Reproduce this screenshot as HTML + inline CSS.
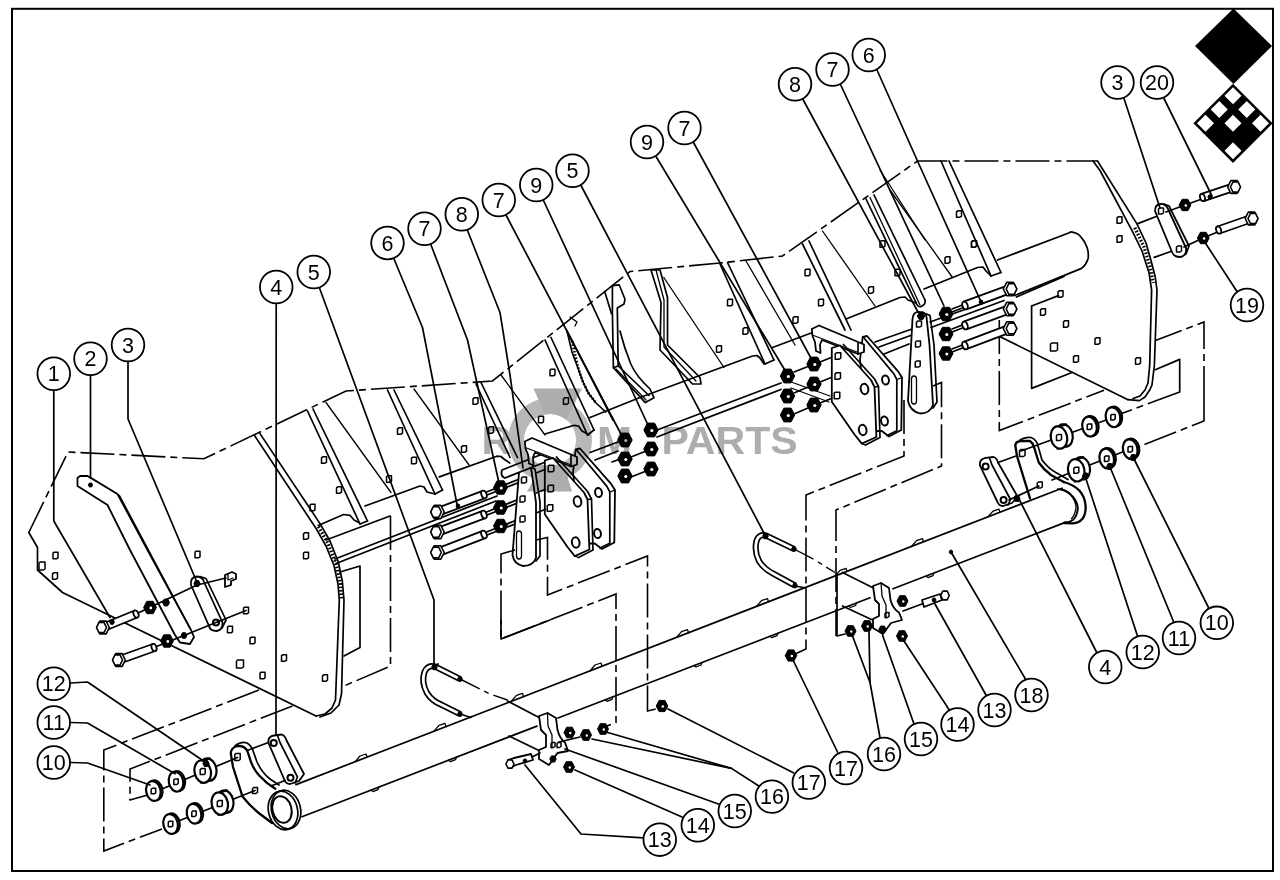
<!DOCTYPE html>
<html lang="en"><head><meta charset="utf-8"><title>Parts diagram</title>
<style>
html,body{margin:0;padding:0;background:#fff;}
body{width:1280px;height:880px;overflow:hidden;font-family:"Liberation Sans",sans-serif;}
svg{display:block}
.l{fill:none;stroke:#000;stroke-width:1.7;stroke-linecap:round;stroke-linejoin:round}
.t{fill:none;stroke:#000;stroke-width:1.3;stroke-linecap:round;stroke-linejoin:round}
.k{fill:none;stroke:#000;stroke-width:2;stroke-linecap:round;stroke-linejoin:round}
.w{fill:#fff;stroke:#000;stroke-width:1.8;stroke-linejoin:round}
.b{fill:#000;stroke:#000;stroke-width:1;stroke-linejoin:round}
.dd{fill:none;stroke:#000;stroke-width:1.6;stroke-dasharray:34 5 7 5}
.nf{fill:none}
.hl{fill:none;stroke:#000;stroke-width:1.5;stroke-linejoin:round}
.k2{stroke-width:1.6}
.k3{stroke-width:2.2}
.k3l{fill:none;stroke:#000;stroke-width:2.3;stroke-linecap:round;stroke-linejoin:round}
.ub{fill:none;stroke:#000;stroke-width:6.2;stroke-linecap:butt;stroke-linejoin:round}
.ubi{fill:none;stroke:#fff;stroke-width:2.8;stroke-linecap:butt;stroke-linejoin:round}
.dd2{fill:none;stroke:#000;stroke-width:1.4;stroke-dasharray:22 5 5 5}
.c{fill:#fff;stroke:#000;stroke-width:1.8}
.n{font-family:"Liberation Sans",sans-serif;font-size:21.5px;fill:#000;text-anchor:middle}
.wm{font-family:"Liberation Sans",sans-serif;font-weight:bold;font-size:39px;fill:#adadad}
</style></head><body>
<svg width="1280" height="880" viewBox="0 0 1280 880">
<rect x="0" y="0" width="1280" height="880" fill="#fff"/>
<!-- border -->
<rect x="12" y="8.8" width="1261" height="862.2" fill="none" stroke="#000" stroke-width="2"/>
<!-- logo -->
<g id="logo">
<path d="M1233.5,8.5 L1272,46 L1233.5,84 L1195,46 Z" fill="#000"/>
<path d="M1233,83.7 L1272.6,123.3 L1233,162.9 L1193.4,123.3 Z" fill="#000"/>
<g fill="#fff">
<path d="M1233,87.3 l8.5,8.5 l-8.5,8.5 l-8.5,-8.5 Z"/>
<path d="M1219.25,101.05 l8.5,8.5 l-8.5,8.5 l-8.5,-8.5 Z"/>
<path d="M1246.75,101.05 l8.5,8.5 l-8.5,8.5 l-8.5,-8.5 Z"/>
<path d="M1205.5,114.8 l8.5,8.5 l-8.5,8.5 l-8.5,-8.5 Z"/>
<path d="M1233,114.8 l8.5,8.5 l-8.5,8.5 l-8.5,-8.5 Z"/>
<path d="M1260.5,114.8 l8.5,8.5 l-8.5,8.5 l-8.5,-8.5 Z"/>
<path d="M1233,142.3 l8.5,8.5 l-8.5,8.5 l-8.5,-8.5 Z"/>
</g>
</g>

<g id="housing">
<polyline class="dd" points="28.8,532.5 68,452 203.8,458.8 346,391 492.5,381 630,271.5 720,263 782.5,256 917.5,161 1097.5,161"/>
<polyline class="l" points="28.8,532.5 37.5,547.5 37.5,570 62.5,592.5 316,716"/>
<polyline class="l" points="254.5,435.5 316.4,529 326,546 334,565.5 338,584 339.3,600 335.5,700 332,708 325,714 316,716"/>
<polyline class="l" points="260,433.6 320,523.6 330,541 338.2,561.8 342.3,581 344,600 341.5,694 339,705 331,713 320,717"/>
<polyline class="l" points="318.2,525.5 343.6,514.5 350,515.3 354,520 359.3,522.8"/>
<polyline class="l" points="365,506 420,486 424,487 427,492 435,494"/>
<polyline class="l" points="439.3,476.9 496.9,456.2 501,456.5 504.5,459.5 509.8,463"/>
<polyline class="l" points="545,434 574.2,425.3 578.5,426 582,431 588.8,434.8"/>
<polyline class="l" points="326,540 390,516"/>
<polyline class="l" points="340,572 360,566 360,647.5 344,656"/>
<polyline class="dd" points="390.5,516 390.5,666 344,686"/>
<polyline class="l" points="307.5,411 360,524"/>
<polyline class="l" points="313,409 367.5,521"/>
<polyline class="l" points="360,524 367.5,521"/>
<polyline class="t" points="326,402.5 391,492.5"/>
<polyline class="l" points="387.5,390 435,494"/>
<polyline class="l" points="394,390 442.5,490"/>
<polyline class="l" points="435,494 442.5,490"/>
<polyline class="t" points="414,389 469,465"/>
<polyline class="l" points="476,384 510,457.5"/>
<polyline class="l" points="481,382.5 517.5,457.5"/>
<polyline class="t" points="501,375 545,435"/>
<polyline class="l" points="545,340 587.5,435"/>
<polyline class="l" points="551,337.5 594,430"/>
<polyline class="l" points="587.5,435 594,430"/>
<polyline class="t" points="570,317 577,322 575,326"/>
<polyline class="l" points="567,331 572,352 578.6,369.7 583,382 588.3,392.9 596,403 605.7,412"/>
<polyline class="l" points="567,331 613,420"/>
<path class="l" d="M612.4,285.7 L619.2,284.8 L625,299.2 L624,304 L617.3,308 L618.2,366 L613.4,367.8 L612.4,313 Z"/>
<polyline class="l" points="604.7,291.5 611.5,313.7"/>
<path class="l" d="M613.4,367.8 L645.3,402.6 L654,397.7 L650,389 Q636,376 630.8,364 Q624,347 620,331"/>
<polyline class="l" points="618.2,366 649,395.5"/>
<polyline class="t" points="616,369 646,400"/>
<polygon class="l" points="651,270 660,270 667.5,297.5 667.5,345 700,377.5 701,384 692.5,384 660,350 661,302.5"/>
<polyline class="t" points="656,270 664,300 664,347 696,381"/>
<polyline class="t" points="663.8,277.5 724,367.5"/>
<polyline class="l" points="590,417.5 640,397.5 752.5,356 757,355.5 760,358 764,364"/>
<polyline class="l" points="772.5,347.5 812.5,332.5"/>
<polyline class="l" points="720,264 765,364"/>
<polyline class="l" points="727.5,262.5 774,360"/>
<polyline class="l" points="765,364 774,360"/>
<polyline class="t" points="746,261 795,345"/>
<polyline class="l" points="802.5,244 845,330"/>
<polyline class="l" points="809,241 851,330"/>
<polyline class="t" points="822.5,231 875,306"/>
<polyline class="l" points="866,199 916,302.5"/>
<polyline class="l" points="874,195 925,300"/>
<polyline class="t" points="870,197.5 920,305"/>
<path class="l" d="M916,302.5 q2,6 6,3.5 q4,-2 3,-6"/>
<polyline class="t" points="890,190 952.5,277.5"/>
<polyline class="l" points="941,161 991,276"/>
<polyline class="l" points="949,161 1001,272.5"/>
<polyline class="l" points="991,276 1001,272.5"/>
<polyline class="l" points="846,319 900,297.5 905,297 908,300 916,303"/>
<polyline class="l" points="924,289 977.5,267.5 983,267 986,271 991,276"/>
<polyline class="t" points="880,170 925,240"/>
<polyline class="l" points="1097.5,161 1136.8,223.6 1146,243 1151,260.5 1155.2,276.8 1157,290 1154.4,365 1152,385 1149.7,390 1145,397 1139.4,400.6 1128,399.7"/>
<polyline class="l" points="1093,161 1100,170.5 1132.7,231.8 1142,251 1149,272.7 1151.6,290 1149.7,365 1148,383 1145,390 1140,396 1133,398.5"/>
<polyline class="l" points="1000.6,337 1128,399.7"/>
<polyline class="l" points="997.5,260 1070,232.5"/>
<path class="l" d="M1070.5,231.8 Q1077,232.5 1080,235.8 Q1085,241 1087.2,247.7 Q1089,254 1088,258.9 Q1086,265 1081.6,268.4 L1014.8,295.5"/>
<polyline class="l" points="1016.4,297 1064,276.4"/>
<polyline class="dd" points="999.3,320 999.3,430.6 1104,390.3"/>
<polyline class="dd" points="1204,400 1204,322 1155.5,340.6"/>
<polyline class="l" points="1031.6,306 1031.6,388.4 1072,372.5"/>
<polyline class="l" points="1031.6,306 1058.5,295.6"/>
<polyline class="l" points="1155.3,369.7 1179.7,359.4 1179.7,392"/>
<polyline class="dd" points="1204,400 1204,421 1138,447"/>
<polyline class="dd" points="1179.7,392 1121,413.7"/>
<polyline points="318.5,526.5 328,543.5 336,563.5 340.2,582.5 341.7,600" fill="none" stroke="#000" stroke-width="3.4" stroke-dasharray="1.6 1.8"/>
<polyline points="1134.8,227.7 1144,247 1150,266.5 1153.3,283" fill="none" stroke="#000" stroke-width="3.4" stroke-dasharray="1.6 1.8"/>
<polyline points="572,341 578.6,369.7 583,382 588.3,392.9 596,403" fill="none" stroke="#000" stroke-width="2.6" stroke-dasharray="1.6 1.8"/>
<polygon class="hl nf" points="53,553.2 54.2,552.2 58,552.2 58,557.8 56.5,558.8 53,558.8"/>
<polygon class="hl nf" points="52.5,573.8 53.7,572.8 57.5,572.8 57.5,578.2 56,579.2 52.5,579.2"/>
<polygon class="hl nf" points="195,552.2 196.2,551.2 200,551.2 200,556.8 198.5,557.8 195,557.8"/>
<polygon class="hl nf" points="227.5,627.2 228.7,626.2 232.5,626.2 232.5,631.8 231,632.8 227.5,632.8"/>
<polygon class="hl nf" points="250,638.2 251.2,637.2 255,637.2 255,642.8 253.5,643.8 250,643.8"/>
<polygon class="hl nf" points="260,673.2 261.2,672.2 265,672.2 265,677.8 263.5,678.8 260,678.8"/>
<polygon class="hl nf" points="281.5,655.8 282.7,654.8 286.5,654.8 286.5,660.2 285,661.2 281.5,661.2"/>
<polygon class="hl nf" points="310,505.2 311.2,504.2 315,504.2 315,509.8 313.5,510.8 310,510.8"/>
<polygon class="hl nf" points="303.5,533.8 304.7,532.8 308.5,532.8 308.5,538.2 307,539.2 303.5,539.2"/>
<polygon class="hl nf" points="303.5,553.2 304.7,552.2 308.5,552.2 308.5,557.8 307,558.8 303.5,558.8"/>
<polygon class="hl nf" points="321.5,457.8 322.7,456.8 326.5,456.8 326.5,462.2 325,463.2 321.5,463.2"/>
<polygon class="hl nf" points="336.5,487.8 337.7,486.8 341.5,486.8 341.5,492.2 340,493.2 336.5,493.2"/>
<polygon class="hl nf" points="322.5,675.8 323.7,674.8 327.5,674.8 327.5,680.2 326,681.2 322.5,681.2"/>
<polygon class="hl nf" points="243.5,608.2 244.7,607.2 248.5,607.2 248.5,612.8 247,613.8 243.5,613.8"/>
<polygon class="hl nf" points="397.5,428.8 398.7,427.8 402.5,427.8 402.5,433.2 401,434.2 397.5,434.2"/>
<polygon class="hl nf" points="411.5,458.2 412.7,457.2 416.5,457.2 416.5,462.8 415,463.8 411.5,463.8"/>
<polygon class="hl nf" points="386.5,476.8 387.7,475.8 391.5,475.8 391.5,481.2 390,482.2 386.5,482.2"/>
<polygon class="hl nf" points="461.5,446.8 462.7,445.8 466.5,445.8 466.5,451.2 465,452.2 461.5,452.2"/>
<polygon class="hl nf" points="473,398.8 474.2,397.8 478,397.8 478,403.2 476.5,404.2 473,404.2"/>
<polygon class="hl nf" points="488.5,427.8 489.7,426.8 493.5,426.8 493.5,432.2 492,433.2 488.5,433.2"/>
<polygon class="hl nf" points="550,370.2 551.2,369.2 555,369.2 555,374.8 553.5,375.8 550,375.8"/>
<polygon class="hl nf" points="563.5,398.8 564.7,397.8 568.5,397.8 568.5,403.2 567,404.2 563.5,404.2"/>
<polygon class="hl nf" points="538.5,417.2 539.7,416.2 543.5,416.2 543.5,421.8 542,422.8 538.5,422.8"/>
<polygon class="hl nf" points="727.5,300.2 728.7,299.2 732.5,299.2 732.5,304.8 731,305.8 727.5,305.8"/>
<polygon class="hl nf" points="743,328.8 744.2,327.8 748,327.8 748,333.2 746.5,334.2 743,334.2"/>
<polygon class="hl nf" points="716.5,346.8 717.7,345.8 721.5,345.8 721.5,351.2 720,352.2 716.5,352.2"/>
<polygon class="hl nf" points="805,270.2 806.2,269.2 810,269.2 810,274.8 808.5,275.8 805,275.8"/>
<polygon class="hl nf" points="818.5,300.2 819.7,299.2 823.5,299.2 823.5,304.8 822,305.8 818.5,305.8"/>
<polygon class="hl nf" points="793,317.8 794.2,316.8 798,316.8 798,322.2 796.5,323.2 793,323.2"/>
<polygon class="hl nf" points="880,241.8 881.2,240.8 885,240.8 885,246.2 883.5,247.2 880,247.2"/>
<polygon class="hl nf" points="895,270.2 896.2,269.2 900,269.2 900,274.8 898.5,275.8 895,275.8"/>
<polygon class="hl nf" points="868.5,287.8 869.7,286.8 873.5,286.8 873.5,292.2 872,293.2 868.5,293.2"/>
<polygon class="hl nf" points="956.5,211.8 957.7,210.8 961.5,210.8 961.5,216.2 960,217.2 956.5,217.2"/>
<polygon class="hl nf" points="971.5,241.8 972.7,240.8 976.5,240.8 976.5,246.2 975,247.2 971.5,247.2"/>
<polygon class="hl nf" points="945,257.8 946.2,256.8 950,256.8 950,262.2 948.5,263.2 945,263.2"/>
<polygon class="hl nf" points="1117,217.8 1118.2,216.8 1122,216.8 1122,222.2 1120.5,223.2 1117,223.2"/>
<polygon class="hl nf" points="1117,236.8 1118.2,235.8 1122,235.8 1122,241.2 1120.5,242.2 1117,242.2"/>
<polygon class="hl nf" points="1058,291.8 1059.2,290.8 1063,290.8 1063,296.2 1061.5,297.2 1058,297.2"/>
<polygon class="hl nf" points="1040.5,309.8 1041.7,308.8 1045.5,308.8 1045.5,314.2 1044,315.2 1040.5,315.2"/>
<polygon class="hl nf" points="1063.5,321.8 1064.7,320.8 1068.5,320.8 1068.5,326.2 1067,327.2 1063.5,327.2"/>
<polygon class="hl nf" points="1073.5,356.8 1074.7,355.8 1078.5,355.8 1078.5,361.2 1077,362.2 1073.5,362.2"/>
<polygon class="hl nf" points="1095,338.8 1096.2,337.8 1100,337.8 1100,343.2 1098.5,344.2 1095,344.2"/>
<polygon class="hl nf" points="1135.5,358.8 1136.7,357.8 1140.5,357.8 1140.5,363.2 1139,364.2 1135.5,364.2"/>
<polygon class="hl nf" points="971.5,241.8 972.7,240.8 976.5,240.8 976.5,246.2 975,247.2 971.5,247.2"/>
<polygon class="hl nf" points="39,563 40.2,562 45,562 45,569 43.5,570 39,570"/>
<polygon class="hl nf" points="236.5,661 237.7,660 243.5,660 243.5,667 242,668 236.5,668"/>
<polygon class="hl nf" points="1050.5,344 1051.7,343 1057.5,343 1057.5,350 1056,351 1050.5,351"/>
</g>

<g id="tube">
<polyline class="l" points="296,784.6 1062,488.2"/>
<polyline class="l" points="302,816.7 537,726.1"/>
<polyline class="l" points="558,718 870,597.7"/>
<polyline class="l" points="893,588.8 1066,522.1"/>
<polyline class="t" points="355,761.8 360,756 366,754 367,757.2"/>
<polyline class="t" points="434,731.2 439,725.4 445,723.4 446,726.6"/>
<polyline class="t" points="511.5,701.2 516.5,695.4 522.5,693.4 523.5,696.6"/>
<polyline class="t" points="590,670.8 595,665 601,663 602,666.2"/>
<polyline class="t" points="676.5,637.4 681.5,631.6 687.5,629.6 688.5,632.8"/>
<polyline class="t" points="756.5,606.4 761.5,600.6 767.5,598.6 768.5,601.8"/>
<polyline class="t" points="835,576.1 840,570.3 846,568.3 847,571.5"/>
<polyline class="t" points="911.5,546.5 916.5,540.7 922.5,538.7 923.5,541.9"/>
<polyline class="t" points="988,516.9 993,511.1 999,509.1 1000,512.3"/>
<polyline class="t" points="371,790.1 373,791.6 378,789.6 379,787.1"/>
<polyline class="t" points="448.5,760.2 450.5,761.7 455.5,759.7 456.5,757.2"/>
<polyline class="t" points="770,636.2 772,637.7 777,635.7 778,633.2"/>
<polyline class="t" points="848.5,606 850.5,607.5 855.5,605.5 856.5,603"/>
<polyline class="t" points="926,576.1 928,577.6 933,575.6 934,573.1"/>
<polyline class="t" points="605,699.8 607,701.3 612,699.3 613,696.8"/>
<polyline class="t" points="694,665.5 696,667 701,665 702,662.5"/>
<path class="k3l" d="M230.8,753.6 Q231,748 236,746.5 Q243,744.5 247.2,750.5 L251,762 Q254,770 259.7,776 Q266,783 275.3,788.75 M230.8,753.6 L233,767 L242.5,796.5 Q250,806 259.7,813.75 L272,823"/>
<path class="l" d="M235,746 Q241,741 247,743 Q252,746 253.5,752 L257,762 Q262,773 270,779 L279,785"/>
<polygon class="hl nf" points="234.8,754.5 235.9,753.5 240.2,753.5 240.2,759.5 238.8,760.5 234.8,760.5"/>
<polygon class="hl nf" points="252.5,788.5 253.7,787.5 257.5,787.5 257.5,792.5 256,793.5 252.5,793.5"/>
<ellipse class="l" cx="283" cy="810.5" rx="14.5" ry="19.5" transform="rotate(-14 283 810.5)"/>
<ellipse class="l" cx="286" cy="809.5" rx="14.5" ry="19.5" transform="rotate(-14 286 809.5)"/>
<ellipse class="k" cx="282" cy="809.5" rx="9.5" ry="13.5" transform="rotate(-14 282 809.5)"/>
<path class="w" d="M268.5,743 Q267.5,736.5 274,735.5 L281.5,734.5 Q285,735.5 286.3,740 L304,774 L299,781 L290,784 Q286,784 284.5,780 Z"/>
<polyline class="l" points="277.5,735.5 280,742.5 297.5,777 295,783"/>
<circle class="k" cx="273.75" cy="743" r="3"/>
<circle class="k" cx="290.5" cy="777.8" r="3"/>
<polyline class="l" points="247.2,750.5 268.5,742.5"/>
<polyline class="l" points="271,786 285,780.5"/>
<polyline class="l" points="130,800 147.5,795 237.5,757.5"/>
<ellipse class="w k3" cx="155.2" cy="790.3" rx="7.2" ry="10" transform="rotate(-12 155.2 790.3)"/>
<ellipse class="w k3" cx="153.4" cy="791" rx="7.2" ry="10" transform="rotate(-12 153.4 791)"/>
<polygon class="hl nf" points="151.2,789.2 152.3,788.2 155.7,788.2 155.7,792.8 154.2,793.8 151.2,793.8"/>
<ellipse class="w k3" cx="177.8" cy="781" rx="7.2" ry="10" transform="rotate(-12 177.8 781)"/>
<ellipse class="w k3" cx="176" cy="781.7" rx="7.2" ry="10" transform="rotate(-12 176 781.7)"/>
<polygon class="hl nf" points="173.8,780 174.9,779 178.2,779 178.2,783.5 176.8,784.5 173.8,784.5"/>
<ellipse class="w k3" cx="208.2" cy="769.6" rx="8.136" ry="11.3" transform="rotate(-12 208.2 769.6)"/>
<polyline class="k" points="204.2,760.3 209.7,758.3"/>
<polyline class="k" points="201.2,782.9 206.7,780.9"/>
<ellipse class="w k3" cx="202.7" cy="771.6" rx="8.136" ry="11.3" transform="rotate(-12 202.7 771.6)"/>
<polygon class="hl nf" points="200.2,769.6 201.4,768.6 205.2,768.6 205.2,773.6 203.7,774.6 200.2,774.6"/>
<polygon class="b" points="209.1,763.5 207.6,766.5 204.4,766.5 202.9,763.5 204.4,760.5 207.6,760.5"/>
<polyline class="l" points="171,824 255,790.5"/>
<ellipse class="w k3" cx="172.4" cy="823.3" rx="7.2" ry="10" transform="rotate(-12 172.4 823.3)"/>
<ellipse class="w k3" cx="170.6" cy="824" rx="7.2" ry="10" transform="rotate(-12 170.6 824)"/>
<polygon class="hl nf" points="168.3,822.2 169.5,821.2 172.8,821.2 172.8,825.8 171.3,826.8 168.3,826.8"/>
<ellipse class="w k3" cx="195.8" cy="813.05" rx="7.2" ry="10" transform="rotate(-12 195.8 813.05)"/>
<ellipse class="w k3" cx="194" cy="813.75" rx="7.2" ry="10" transform="rotate(-12 194 813.75)"/>
<polygon class="hl nf" points="191.8,812 192.9,811 196.2,811 196.2,815.5 194.8,816.5 191.8,816.5"/>
<ellipse class="w k3" cx="225.3" cy="801.6" rx="8.136" ry="11.3" transform="rotate(-12 225.3 801.6)"/>
<polyline class="k" points="221.3,792.3 226.8,790.3"/>
<polyline class="k" points="218.3,814.9 223.8,812.9"/>
<ellipse class="w k3" cx="219.8" cy="803.6" rx="8.136" ry="11.3" transform="rotate(-12 219.8 803.6)"/>
<polygon class="hl nf" points="217.3,801.6 218.5,800.6 222.3,800.6 222.3,805.6 220.8,806.6 217.3,806.6"/>
<polyline class="dd" points="259,690 103.8,750 103.8,851 162,829"/>
<polyline class="dd" points="292.5,706 130,769 130,800"/>
<path class="k3l" d="M1015.3,445.3 Q1016,441 1021.5,441 L1030,441 Q1033,443 1034,447 L1038.75,462.5 Q1044,470 1051,475 L1063.75,482 M1015.3,445.3 L1017,456 L1030,498.4"/>
<path class="l" d="M1020,440 Q1025,436.5 1031,437.5 Q1037,440 1038,446 L1042,460 Q1048,468 1055,472 L1068,479.5"/>
<polygon class="hl nf" points="1019.5,450.5 1020.8,449.5 1025,449.5 1025,455.5 1023.5,456.5 1019.5,456.5"/>
<polygon class="hl nf" points="1037.3,483 1038.5,482 1042.3,482 1042.3,487 1040.8,488 1037.3,488"/>
<path class="k3l" d="M1063.75,482 Q1074,485 1079.4,490.6 Q1085,497 1085.6,506 Q1086,514 1082.5,518.75 Q1079,523 1073,523.4 L1064,523"/>
<path class="k" d="M1060.6,489 Q1068,491 1073,497 Q1078,503 1077.8,509 Q1077,516 1073,520 Q1070,522 1064,523"/>
<path class="t" d="M1057.5,489 Q1066,490 1070,493.75 Q1076,501 1076,507.8 Q1075,515 1071.5,518.75"/>
<path class="w" d="M980,465.6 Q979,459 985.6,457.8 L993.4,457 Q997,458 998,462.5 L1017.7,496.9 L1012,503 L1003,506 Q999,506 997.5,502 Z"/>
<polyline class="l" points="989.5,458 992,465 1010.5,499.5 1008,505"/>
<circle class="k" cx="985.6" cy="466.4" r="3"/>
<circle class="k" cx="1003.6" cy="500" r="3"/>
<polyline class="l" points="998,462.5 1015.3,456.2"/>
<polyline class="l" points="1009,500 1038.8,486"/>
<polygon class="b" points="1020,498.4 1018.5,501.4 1015.3,501.4 1013.8,498.4 1015.3,495.4 1018.5,495.4"/>
<polyline class="l" points="1021,451 1113,417.5"/>
<ellipse class="w k3" cx="1064.5" cy="435.5" rx="8.136" ry="11.3" transform="rotate(-12 1064.5 435.5)"/>
<polyline class="k" points="1060.5,426.2 1066,424.2"/>
<polyline class="k" points="1057.5,448.8 1063,446.8"/>
<ellipse class="w k3" cx="1059" cy="437.5" rx="8.136" ry="11.3" transform="rotate(-12 1059 437.5)"/>
<polygon class="hl nf" points="1056.5,435.5 1057.7,434.5 1061.5,434.5 1061.5,439.5 1060,440.5 1056.5,440.5"/>
<ellipse class="w k3" cx="1091.3" cy="425.9" rx="7.2" ry="10" transform="rotate(-12 1091.3 425.9)"/>
<ellipse class="w k3" cx="1089.5" cy="426.6" rx="7.2" ry="10" transform="rotate(-12 1089.5 426.6)"/>
<polygon class="hl nf" points="1087.2,424.9 1088.5,423.9 1091.8,423.9 1091.8,428.4 1090.2,429.4 1087.2,429.4"/>
<ellipse class="w k3" cx="1114.8" cy="416.5" rx="7.2" ry="10" transform="rotate(-12 1114.8 416.5)"/>
<ellipse class="w k3" cx="1113" cy="417.2" rx="7.2" ry="10" transform="rotate(-12 1113 417.2)"/>
<polygon class="hl nf" points="1110.8,415.4 1112,414.4 1115.2,414.4 1115.2,418.9 1113.8,419.9 1110.8,419.9"/>
<polyline class="l" points="1052,480 1130,449"/>
<ellipse class="w k3" cx="1081.75" cy="468.3" rx="8.136" ry="11.3" transform="rotate(-12 1081.75 468.3)"/>
<polyline class="k" points="1077.8,459 1083.2,457"/>
<polyline class="k" points="1074.8,481.6 1080.2,479.6"/>
<ellipse class="w k3" cx="1076.25" cy="470.3" rx="8.136" ry="11.3" transform="rotate(-12 1076.25 470.3)"/>
<polygon class="hl nf" points="1073.8,468.3 1075,467.3 1078.8,467.3 1078.8,472.3 1077.2,473.3 1073.8,473.3"/>
<ellipse class="w k3" cx="1108.5" cy="457.9" rx="7.2" ry="10" transform="rotate(-12 1108.5 457.9)"/>
<ellipse class="w k3" cx="1106.7" cy="458.6" rx="7.2" ry="10" transform="rotate(-12 1106.7 458.6)"/>
<polygon class="hl nf" points="1104.5,456.9 1105.7,455.9 1109,455.9 1109,460.4 1107.5,461.4 1104.5,461.4"/>
<ellipse class="w k3" cx="1132" cy="448.5" rx="7.2" ry="10" transform="rotate(-12 1132 448.5)"/>
<ellipse class="w k3" cx="1130.2" cy="449.2" rx="7.2" ry="10" transform="rotate(-12 1130.2 449.2)"/>
<polygon class="hl nf" points="1128,447.4 1129.2,446.4 1132.5,446.4 1132.5,450.9 1131,451.9 1128,451.9"/>
<polygon class="b" points="1088.7,476 1087.2,479 1084,479 1082.5,476 1084,473 1087.2,473"/>
<polygon class="b" points="1112.9,466.5 1111.4,469.5 1108.2,469.5 1106.7,466.5 1108.2,463.5 1111.4,463.5"/>
<polygon class="b" points="1136.4,457.5 1134.9,460.5 1131.7,460.5 1130.2,457.5 1131.7,454.5 1134.9,454.5"/>
<polygon class="b" points="952.8,552 951.9,553.8 950.1,553.8 949.2,552 950.1,550.2 951.9,550.2"/>
</g>

<g id="hardware">
<polyline class="l" points="335,559 497,496"/>
<polyline class="l" points="336,563.5 496,501"/>
<polyline class="l" points="484,493 522,478"/>
<polyline class="l" points="484,496.2 522,481.2"/>
<polygon class="w" points="438.9,515.7 485.4,498.2 482.6,490.8 436.1,508.3"/>
<ellipse class="w" cx="484" cy="494.5" rx="2.56" ry="4" transform="rotate(-20.6235 484 494.5)"/>
<polygon class="w k2" points="444.2,512 440.8,518.7 434.2,518.7 430.8,512 434.2,505.3 440.8,505.3"/>
<polygon class="w k2" points="441.3,512 438.7,517.4 433.3,517.4 430.7,512 433.3,506.6 438.7,506.6"/>
<polyline class="l" points="484,513 522,498"/>
<polyline class="l" points="484,516.2 522,501.2"/>
<polygon class="w" points="438.9,535.7 485.4,518.2 482.6,510.8 436.1,528.3"/>
<ellipse class="w" cx="484" cy="514.5" rx="2.56" ry="4" transform="rotate(-20.6235 484 514.5)"/>
<polygon class="w k2" points="444.2,532 440.8,538.7 434.2,538.7 430.8,532 434.2,525.3 440.8,525.3"/>
<polygon class="w k2" points="441.3,532 438.7,537.4 433.3,537.4 430.7,532 433.3,526.6 438.7,526.6"/>
<polyline class="l" points="484,533 522,518"/>
<polyline class="l" points="484,536.2 522,521.2"/>
<polygon class="w" points="438.9,556.2 485.4,538.2 482.6,530.8 436.1,548.8"/>
<ellipse class="w" cx="484" cy="534.5" rx="2.56" ry="4" transform="rotate(-21.1613 484 534.5)"/>
<polygon class="w k2" points="444.2,552.5 440.8,559.2 434.2,559.2 430.8,552.5 434.2,545.8 440.8,545.8"/>
<polygon class="w k2" points="441.3,552.5 438.7,557.9 433.3,557.9 430.7,552.5 433.3,547.1 438.7,547.1"/>
<polygon class="b" points="460,506 459,507.9 457,507.9 456,506 457,504.1 459,504.1"/>
<polygon class="b" points="507.5,487.5 504,494.2 497,494.2 493.5,487.5 497,480.8 504,480.8"/>
<circle cx="501.3" cy="488" r="1.52" fill="#fff"/>
<polygon class="b" points="507.5,507.5 504,514.2 497,514.2 493.5,507.5 497,500.8 504,500.8"/>
<circle cx="501.3" cy="508" r="1.52" fill="#fff"/>
<polygon class="b" points="507.5,526 504,532.7 497,532.7 493.5,526 497,519.3 504,519.3"/>
<circle cx="501.3" cy="526.5" r="1.52" fill="#fff"/>
<path class="w" d="M519,472.5 Q520,465 526,466 Q531,466.5 531.5,471 L536,502.5 L536,558 Q533,566 523,566 Q514,564 512.5,555 Z"/>
<polyline class="l" points="531.5,468 535,469 540,502 540,556 536,561"/>
<polygon class="hl nf" points="521.5,478 522.7,477 526.5,477 526.5,482 525,483 521.5,483"/>
<polygon class="hl nf" points="520,497 521.2,496 525,496 525,501 523.5,502 520,502"/>
<polygon class="hl nf" points="520,517 521.2,516 525,516 525,521 523.5,522 520,522"/>
<path class="t" d="M516.5,534 Q516.5,531 519,531 Q521.5,531 521.5,534 L521.5,556 Q521.5,559 519,559 Q516.5,559 516.5,556 Z"/>
<path class="w" d="M502,470 L549,451.5 L553,459 L505,478 Q500,476 502,470 Z"/>
<polygon class="w" points="575.7,449.5 580,448.5 611.3,484.2 615,490.1 614.3,542.5 602,549 594.8,543.5 581,543.5 573,472.5"/>
<polyline class="l" points="577,450.5 606.9,486.4 609.8,492 609.8,543.2 600,548"/>
<polyline class="t" points="609.8,492 615,490.1"/>
<ellipse class="k" cx="598.5" cy="492.5" rx="3.4" ry="4.6" transform="rotate(-10 598.5 492.5)"/>
<ellipse class="k" cx="597.5" cy="533.5" rx="3.4" ry="4.6" transform="rotate(-10 597.5 533.5)"/>
<polygon class="w" points="524.8,441.5 532,438 577,457 577,464.5 571,466.5 535,452.5 533,457 533.5,465.5 529,463.5 528,454.5 525.5,448.5"/>
<polyline class="t" points="526.6,448 570,464.5"/>
<polygon class="w" points="544.8,460.5 553,458 584,492.5 587.5,499.5 589.4,549.5 574.8,556.1 567.5,547 544.8,514.3"/>
<polyline class="l" points="556.5,457 587.6,491.5 591.5,499 593,550 578.5,557.5"/>
<polyline class="t" points="587.5,499.5 591.5,499"/>
<polyline class="t" points="574.8,556.1 578.5,557.5"/>
<ellipse class="k" cx="577.5" cy="501.5" rx="3.8" ry="5.2" transform="rotate(-10 577.5 501.5)"/>
<ellipse class="k" cx="575.7" cy="542.5" rx="3.8" ry="5.2" transform="rotate(-10 575.7 542.5)"/>
<polygon class="hl nf" points="548.2,466.2 549.5,465.2 553.8,465.2 553.8,470.8 552.2,471.8 548.2,471.8"/>
<polygon class="hl nf" points="548,486.2 549.2,485.2 553.5,485.2 553.5,490.8 552,491.8 548,491.8"/>
<polygon class="hl nf" points="547.2,505.8 548.5,504.8 552.8,504.8 552.8,510.2 551.2,511.2 547.2,511.2"/>
<polyline class="l" points="571,455.5 571,466.5"/>
<polyline class="l" points="536,473 545,469.5"/>
<polyline class="l" points="536,493 545,489.5"/>
<polyline class="l" points="536,513 545,509.5"/>
<polygon class="b" points="632.2,440 628.6,446.9 621.4,446.9 617.8,440 621.4,433.1 628.6,433.1"/>
<circle cx="625.8" cy="440.5" r="1.56" fill="#fff"/>
<polygon class="b" points="632.2,459 628.6,465.9 621.4,465.9 617.8,459 621.4,452.1 628.6,452.1"/>
<circle cx="625.8" cy="459.5" r="1.56" fill="#fff"/>
<polygon class="b" points="632.2,476 628.6,482.9 621.4,482.9 617.8,476 621.4,469.1 628.6,469.1"/>
<circle cx="625.8" cy="476.5" r="1.56" fill="#fff"/>
<polygon class="b" points="658.2,430 654.6,436.9 647.4,436.9 643.8,430 647.4,423.1 654.6,423.1"/>
<circle cx="651.8" cy="430.5" r="1.56" fill="#fff"/>
<polygon class="b" points="658.2,449 654.6,455.9 647.4,455.9 643.8,449 647.4,442.1 654.6,442.1"/>
<circle cx="651.8" cy="449.5" r="1.56" fill="#fff"/>
<polygon class="b" points="658.2,469 654.6,475.9 647.4,475.9 643.8,469 647.4,462.1 654.6,462.1"/>
<circle cx="651.8" cy="469.5" r="1.56" fill="#fff"/>
<polyline class="l" points="631,457 645,451.5"/>
<polyline class="l" points="631,477 645,471.5"/>
<polyline class="l" points="590,452.5 618,442"/>
<polyline class="l" points="595,460 618,451"/>
<polyline class="l" points="657,430 781,383"/>
<polyline class="l" points="657,437 781,389.5"/>
<polyline class="l" points="612,462 619,459.5"/>
<polygon class="b" points="794.7,376 791.1,382.9 783.9,382.9 780.3,376 783.9,369.1 791.1,369.1"/>
<circle cx="788.3" cy="376.5" r="1.56" fill="#fff"/>
<polygon class="b" points="794.7,396 791.1,402.9 783.9,402.9 780.3,396 783.9,389.1 791.1,389.1"/>
<circle cx="788.3" cy="396.5" r="1.56" fill="#fff"/>
<polygon class="b" points="794.7,415 791.1,421.9 783.9,421.9 780.3,415 783.9,408.1 791.1,408.1"/>
<circle cx="788.3" cy="415.5" r="1.56" fill="#fff"/>
<polygon class="b" points="821.2,364 817.6,370.9 810.4,370.9 806.8,364 810.4,357.1 817.6,357.1"/>
<circle cx="814.8" cy="364.5" r="1.56" fill="#fff"/>
<polygon class="b" points="821.2,384 817.6,390.9 810.4,390.9 806.8,384 810.4,377.1 817.6,377.1"/>
<circle cx="814.8" cy="384.5" r="1.56" fill="#fff"/>
<polygon class="b" points="821.2,405 817.6,411.9 810.4,411.9 806.8,405 810.4,398.1 817.6,398.1"/>
<circle cx="814.8" cy="405.5" r="1.56" fill="#fff"/>
<polyline class="l" points="820,362 835,356"/>
<polyline class="l" points="820,382 835,376"/>
<polyline class="l" points="820,403 835,397"/>
<polyline class="l" points="794,393 808,387"/>
<polyline class="l" points="794,414 808,408"/>
<polyline class="l" points="794,372 808,366.5"/>
<polygon class="w" points="862.7,337 867,336 898.3,371.7 902,377.6 901.3,430 889,436.5 881.8,431 868,431 860,360"/>
<polyline class="l" points="864,338 893.9,373.9 896.8,379.5 896.8,430.7 887,435.5"/>
<polyline class="t" points="896.8,379.5 902,377.6"/>
<ellipse class="k" cx="885.5" cy="380" rx="3.4" ry="4.6" transform="rotate(-10 885.5 380)"/>
<ellipse class="k" cx="884.5" cy="421" rx="3.4" ry="4.6" transform="rotate(-10 884.5 421)"/>
<polygon class="w" points="811.8,329 819,325.5 864,344.5 864,352 858,354 822,340 820,344.5 820.5,353 816,351 815,342 812.5,336"/>
<polyline class="t" points="813.6,335.5 857,352"/>
<polygon class="w" points="831.8,348 840,345.5 871,380 874.5,387 876.4,437 861.8,443.6 854.5,434.5 831.8,401.8"/>
<polyline class="l" points="843.5,344.5 874.6,379 878.5,386.5 880,437.5 865.5,445"/>
<polyline class="t" points="874.5,387 878.5,386.5"/>
<polyline class="t" points="861.8,443.6 865.5,445"/>
<ellipse class="k" cx="864.5" cy="389" rx="3.8" ry="5.2" transform="rotate(-10 864.5 389)"/>
<ellipse class="k" cx="862.7" cy="430" rx="3.8" ry="5.2" transform="rotate(-10 862.7 430)"/>
<polygon class="hl nf" points="835.2,353.8 836.5,352.8 840.8,352.8 840.8,358.2 839.2,359.2 835.2,359.2"/>
<polygon class="hl nf" points="835,373.8 836.2,372.8 840.5,372.8 840.5,378.2 839,379.2 835,379.2"/>
<polygon class="hl nf" points="834.2,393.2 835.5,392.2 839.8,392.2 839.8,397.8 838.2,398.8 834.2,398.8"/>
<polyline class="l" points="858,343 858,354"/>
<polyline class="t" points="792.5,382.5 830,396"/>
<polyline class="t" points="791,388 829,402"/>
<polyline class="l" points="875,342 912,329"/>
<polyline class="l" points="879,347 912,335"/>
<polyline class="l" points="884,354 909,344"/>
<polyline class="l" points="930,322 1004,295.5"/>
<polyline class="l" points="931,327.5 1004,300.5"/>
<path class="w" d="M912.5,319 Q913,311.5 919.5,312 Q926,312 926.5,317 L929.5,345 L933,405 Q930,413.5 920,413.5 Q910,411 908,401 Z"/>
<polyline class="l" points="926.5,314 930,315.5 934,345 937,402 933,408"/>
<polygon class="hl nf" points="916.5,322 917.7,321 921.5,321 921.5,326 920,327 916.5,327"/>
<polygon class="hl nf" points="915.5,342 916.7,341 920.5,341 920.5,346 919,347 915.5,347"/>
<polygon class="hl nf" points="915.2,362 916.5,361 920.2,361 920.2,366 918.8,367 915.2,367"/>
<path class="t" d="M911.5,379 Q911.5,376 914,376 Q916.5,376 916.5,379 L916.5,401 Q916.5,404 914,404 Q911.5,404 911.5,401 Z"/>
<polygon class="b" points="924.7,316 922.8,319.5 919.2,319.5 917.3,316 919.2,312.5 922.8,312.5"/>
<polygon class="b" points="953,314 949.5,320.7 942.5,320.7 939,314 942.5,307.3 949.5,307.3"/>
<circle cx="946.8" cy="314.5" r="1.52" fill="#fff"/>
<polygon class="b" points="953,334 949.5,340.7 942.5,340.7 939,334 942.5,327.3 949.5,327.3"/>
<circle cx="946.8" cy="334.5" r="1.52" fill="#fff"/>
<polygon class="b" points="953,353.5 949.5,360.2 942.5,360.2 939,353.5 942.5,346.8 949.5,346.8"/>
<circle cx="946.8" cy="354" r="1.52" fill="#fff"/>
<polyline class="l" points="952,309 965,304"/>
<polyline class="l" points="952,312 965,307"/>
<polygon class="w" points="1008.6,285.2 963.6,301.7 966.4,309.3 1011.4,292.8"/>
<ellipse class="w" cx="965" cy="305.5" rx="2.56" ry="4" transform="rotate(159.864 965 305.5)"/>
<polygon class="w k2" points="1016.7,289 1013.3,295.7 1006.7,295.7 1003.3,289 1006.7,282.3 1013.3,282.3"/>
<polygon class="w k2" points="1016.8,289 1014.2,294.4 1008.8,294.4 1006.2,289 1008.8,283.6 1014.2,283.6"/>
<polyline class="l" points="952,329 965,324"/>
<polyline class="l" points="952,332 965,327"/>
<polygon class="w" points="1008.6,305.2 963.6,321.7 966.4,329.3 1011.4,312.8"/>
<ellipse class="w" cx="965" cy="325.5" rx="2.56" ry="4" transform="rotate(159.864 965 325.5)"/>
<polygon class="w k2" points="1016.7,309 1013.3,315.7 1006.7,315.7 1003.3,309 1006.7,302.3 1013.3,302.3"/>
<polygon class="w k2" points="1016.8,309 1014.2,314.4 1008.8,314.4 1006.2,309 1008.8,303.6 1014.2,303.6"/>
<polyline class="l" points="952,349 965,344"/>
<polyline class="l" points="952,352 965,347"/>
<polygon class="w" points="1008.6,324.8 963.6,341.8 966.4,349.2 1011.4,332.2"/>
<ellipse class="w" cx="965" cy="345.5" rx="2.56" ry="4" transform="rotate(159.305 965 345.5)"/>
<polygon class="w k2" points="1016.7,328.5 1013.3,335.2 1006.7,335.2 1003.3,328.5 1006.7,321.8 1013.3,321.8"/>
<polygon class="w k2" points="1016.8,328.5 1014.2,333.9 1008.8,333.9 1006.2,328.5 1008.8,323.1 1014.2,323.1"/>
<polygon class="b" points="983,302 982,303.9 980,303.9 979,302 980,300.1 982,300.1"/>
<polyline class="dd" points="515,550 501,554 501,639 616,594 616,722.5 607,726"/>
<polyline class="dd" points="536,540 547.5,537.5 547.5,595 647.5,556 647.5,711 656,709"/>
<polyline class="l" points="501,620 501,639 550,620"/>
<polyline class="dd" points="904,400 904,456 806,495 806,649 795,654"/>
<polyline class="dd" points="933,386 941.5,382.5 941.5,466 836,510 836,636"/>
<polyline class="l" points="837,575 837,636 845,634"/>
</g>

<g id="misc">
<path class="w" d="M77.5,478 L80,476 L87.5,476 L117.5,494 L147.5,550 L191,630 L194,637 L190,644 L180,642.5 L175,635 L130,550 L107.5,505 L77.5,486 Z"/>
<polyline class="t" points="90,477 119.5,495.5 190,628"/>
<polygon class="b" points="92.6,485 91.6,487 89.4,487 88.4,485 89.4,483 91.6,483"/>
<polygon class="b" points="186.9,635.5 185.5,638.3 182.5,638.3 181.1,635.5 182.5,632.7 185.5,632.7"/>
<path class="w" d="M191,585 Q190,577 197,576.5 Q203,577 204,582 L222.5,622.5 Q223,630 216.5,631 Q210,631 209,626 Z"/>
<polyline class="l" points="200,576.5 206,578.5 226,620 222,628"/>
<polygon class="b" points="200.1,583.5 198.6,586.5 195.4,586.5 193.9,583.5 195.4,580.5 198.6,580.5"/>
<circle class="k" cx="216" cy="622.5" r="3"/>
<polygon class="w" points="225,575 232,572 236,574 236,579 231,581 231,585 225,587"/>
<polyline class="t" points="228,574 228,580 233,578"/>
<polyline class="l" points="136,614 197,585 226,578"/>
<polyline class="l" points="154,647.5 184,635.5 216,622.5 246,610.5"/>
<polygon class="w" points="104.4,631 137.4,617.5 134.6,610.5 101.6,624"/>
<ellipse class="w" cx="136" cy="614" rx="2.4" ry="3.75" transform="rotate(-22.249 136 614)"/>
<polygon class="w k2" points="109.3,627.5 106.2,633.9 99.8,633.9 96.7,627.5 99.8,621.1 106.2,621.1"/>
<polygon class="w k2" points="106.5,627.5 104,632.6 99,632.6 96.5,627.5 99,622.4 104,622.4"/>
<polygon class="w" points="120.3,663.5 155.3,651 152.7,644 117.7,656.5"/>
<ellipse class="w" cx="154" cy="647.5" rx="2.4" ry="3.75" transform="rotate(-19.6538 154 647.5)"/>
<polygon class="w k2" points="125.3,660 122.2,666.4 115.8,666.4 112.7,660 115.8,653.6 122.2,653.6"/>
<polygon class="w k2" points="122.5,660 120,665.1 115,665.1 112.5,660 115,654.9 120,654.9"/>
<polygon class="b" points="156.4,607.5 153.2,613.7 146.8,613.7 143.6,607.5 146.8,601.3 153.2,601.3"/>
<circle cx="150.8" cy="608" r="1.4" fill="#fff"/>
<polygon class="b" points="169.5,602.5 167.7,605.9 164.3,605.9 162.5,602.5 164.3,599.1 167.7,599.1"/>
<polygon class="b" points="173.4,641 170.2,647.2 163.8,647.2 160.6,641 163.8,634.8 170.2,634.8"/>
<circle cx="167.8" cy="641.5" r="1.4" fill="#fff"/>
<polygon class="b" points="114.4,622 113.2,624.3 110.8,624.3 109.6,622 110.8,619.7 113.2,619.7"/>
<polyline class="l" points="1137.8,223.6 1157.5,216"/>
<polyline class="l" points="1154.2,257.4 1175,250"/>
<path class="w" d="M1155,211 Q1155,204 1161,204 Q1166,204 1168,209 L1186,248 Q1187,256 1180,257 Q1174,257 1172,252 Z"/>
<polyline class="l" points="1164,204 1169,206 1189,246 1186,254"/>
<polygon class="hl nf" points="1158.5,209 1159.7,208 1163.5,208 1163.5,213 1162,214 1158.5,214"/>
<polygon class="hl nf" points="1176.5,247 1177.7,246 1181.5,246 1181.5,251 1180,252 1176.5,252"/>
<polyline class="l" points="1166,212 1185,205 1202,199"/>
<polyline class="l" points="1184,247 1203,238 1220,231"/>
<polygon class="w" points="1232.8,183.4 1201.3,193.9 1203.7,201.1 1235.2,190.6"/>
<ellipse class="w" cx="1202.5" cy="197.5" rx="2.4" ry="3.75" transform="rotate(161.565 1202.5 197.5)"/>
<polygon class="w k2" points="1240.3,187 1237.2,193.4 1230.8,193.4 1227.7,187 1230.8,180.6 1237.2,180.6"/>
<polygon class="w k2" points="1240.5,187 1238,192.1 1233,192.1 1230.5,187 1233,181.9 1238,181.9"/>
<polygon class="w" points="1250.3,215 1217.4,226.5 1219.8,233.5 1252.7,222"/>
<ellipse class="w" cx="1218.6" cy="230" rx="2.4" ry="3.75" transform="rotate(160.733 1218.6 230)"/>
<polygon class="w k2" points="1257.8,218.5 1254.7,224.9 1248.3,224.9 1245.2,218.5 1248.3,212.1 1254.7,212.1"/>
<polygon class="w k2" points="1258,218.5 1255.5,223.6 1250.5,223.6 1248,218.5 1250.5,213.4 1255.5,213.4"/>
<polygon class="b" points="1190.9,205 1187.9,210.7 1182.1,210.7 1179.1,205 1182.1,199.3 1187.9,199.3"/>
<circle cx="1185.8" cy="205.5" r="1.28" fill="#fff"/>
<polygon class="b" points="1209.2,238 1206.2,243.7 1200.4,243.7 1197.4,238 1200.4,232.3 1206.2,232.3"/>
<circle cx="1204.1" cy="238.5" r="1.28" fill="#fff"/>
<polygon class="b" points="1212.2,197 1211.1,199.1 1208.9,199.1 1207.8,197 1208.9,194.9 1211.1,194.9"/>
<path class="ub" d="M460,679 L436,667 Q428,664 424.5,672 Q421,682 427,693 Q432,701 441,704.5 L460,714"/>
<path class="ubi" d="M460,679 L436,667 Q428,664 424.5,672 Q421,682 427,693 Q432,701 441,704.5 L460,714"/>
<polyline class="k" points="434,667 438,664"/>
<polygon class="b" points="437.3,667 435.9,669.7 433.1,669.7 431.7,667 433.1,664.3 435.9,664.3"/>
<polygon class="b" points="462.4,679 461.2,681.3 458.8,681.3 457.6,679 458.8,676.7 461.2,676.7"/>
<polygon class="b" points="462.4,714 461.2,716.3 458.8,716.3 457.6,714 458.8,711.7 461.2,711.7"/>
<polyline class="dd2" points="460,679 490,694 507.5,700"/>
<polyline class="l" points="507.5,701 540,718"/>
<polyline class="l" points="460,714 471,717.5"/>
<polyline class="l" points="509,736 540,751"/>
<path class="ub" d="M794,549 L767,536 Q759,533 756.5,541 Q754,551 759,561 Q764,569 773,573.5 L795,585.5"/>
<path class="ubi" d="M794,549 L767,536 Q759,533 756.5,541 Q754,551 759,561 Q764,569 773,573.5 L795,585.5"/>
<polygon class="b" points="768.3,536 766.9,538.7 764.1,538.7 762.7,536 764.1,533.3 766.9,533.3"/>
<polygon class="b" points="796.4,549 795.2,551.3 792.8,551.3 791.6,549 792.8,546.7 795.2,546.7"/>
<polygon class="b" points="797.4,585.5 796.2,587.8 793.8,587.8 792.6,585.5 793.8,583.2 796.2,583.2"/>
<polyline class="dd2" points="794,549 815,560 835,572.5"/>
<polyline class="l" points="842.5,572.5 872.5,587.5"/>
<polyline class="l" points="795,586 806,588"/>
<polyline class="l" points="842.5,606 872.5,620"/>
<path class="w" d="M539,716 L547.5,713 L556,718 L557.5,730 Q560,739 565,742.5 L568,751 L557.5,753 L549,765 L539,759 L539,750 L546,747 L546,735 L541,730 Z"/>
<polyline class="t" points="547.5,713 548,726 552,735 552,748"/>
<polygon class="hl nf" points="551,743.5 552.2,742.5 555,742.5 555,746.5 553.5,747.5 551,747.5"/>
<polygon class="hl nf" points="557,743.5 558.2,742.5 561,742.5 561,746.5 559.5,747.5 557,747.5"/>
<polyline class="l" points="531,757.5 540,753"/>
<polygon class="w" points="508,760 514,758 531,754 533,760 516,765 510,768"/>
<polygon class="w k2" points="514,764 512,768.1 508,768.1 505.9,764 508,759.9 512,759.9"/>
<polygon class="b" points="527,761 526,762.9 524,762.9 523,761 524,759.1 526,759.1"/>
<polygon class="b" points="575,732.5 572.3,737.8 566.7,737.8 564,732.5 566.7,727.2 572.3,727.2"/>
<circle cx="570.3" cy="733" r="1.2" fill="#fff"/>
<polygon class="b" points="591.5,735 588.8,740.3 583.2,740.3 580.5,735 583.2,729.7 588.8,729.7"/>
<circle cx="586.8" cy="735.5" r="1.2" fill="#fff"/>
<polygon class="b" points="608.5,729 605.8,734.3 600.2,734.3 597.5,729 600.2,723.7 605.8,723.7"/>
<circle cx="603.8" cy="729.5" r="1.2" fill="#fff"/>
<polygon class="b" points="574.5,767 571.8,772.3 566.2,772.3 563.5,767 566.2,761.7 571.8,761.7"/>
<circle cx="569.8" cy="767.5" r="1.2" fill="#fff"/>
<polygon class="b" points="556.2,759 554.6,762.1 551.4,762.1 549.8,759 551.4,755.9 554.6,755.9"/>
<polygon class="b" points="667.8,706 664.9,711.6 659.1,711.6 656.2,706 659.1,700.4 664.9,700.4"/>
<circle cx="662.8" cy="706.5" r="1.26" fill="#fff"/>
<polyline class="l" points="559,742 580,737"/>
<path class="w" d="M873,586 L881,583 L889,588 L890.5,600 Q893,609 899,612.5 L902,620 L891,623 L883,634 L873,628 L873,619 L879,616 L879,604 L875,600 Z"/>
<polyline class="t" points="881,583 882,596 886,605 886,618"/>
<polygon class="hl nf" points="885,613.5 886.2,612.5 889,612.5 889,616.5 887.5,617.5 885,617.5"/>
<polyline class="l" points="903,611 922,604"/>
<polygon class="w" points="922,600 940,594 942,600 924,607"/>
<polygon class="w k2" points="949.3,595.5 947.2,599.9 942.8,599.9 940.7,595.5 942.8,591.1 947.2,591.1"/>
<polygon class="b" points="936,600 935,601.9 933,601.9 932,600 933,598.1 935,598.1"/>
<polygon class="b" points="908,601 905.3,606.3 899.7,606.3 897,601 899.7,595.7 905.3,595.7"/>
<circle cx="903.3" cy="601.5" r="1.2" fill="#fff"/>
<polygon class="b" points="856,631 853.3,636.3 847.7,636.3 845,631 847.7,625.7 853.3,625.7"/>
<circle cx="851.3" cy="631.5" r="1.2" fill="#fff"/>
<polygon class="b" points="872.5,626 869.8,631.3 864.2,631.3 861.5,626 864.2,620.7 869.8,620.7"/>
<circle cx="867.8" cy="626.5" r="1.2" fill="#fff"/>
<polygon class="b" points="886.2,629.5 884.3,633 880.7,633 878.8,629.5 880.7,626 884.3,626"/>
<polygon class="b" points="907.5,636 904.8,641.3 899.2,641.3 896.5,636 899.2,630.7 904.8,630.7"/>
<circle cx="902.8" cy="636.5" r="1.2" fill="#fff"/>
<polygon class="b" points="796.8,655.5 793.9,661.1 788.1,661.1 785.2,655.5 788.1,649.9 793.9,649.9"/>
<circle cx="791.8" cy="656" r="1.26" fill="#fff"/>
</g>

<g id="leaders">
<polyline class="l" points="53.8,390 53.8,521 110,617.5"/>
<polyline class="l" points="90.5,375 90.5,478"/>
<polyline class="l" points="128,361.5 128,419 196,580"/>
<polyline class="l" points="276.2,303.5 276,735"/>
<polyline class="l" points="319.5,288 434,600 434,664"/>
<polyline class="l" points="394,259 422.5,327.5 457.5,507"/>
<polyline class="l" points="431,245 467.5,340 499,483"/>
<polyline class="l" points="467.5,230.5 500,312.5 510,375 523,468"/>
<polyline class="l" points="506,215 622,436"/>
<polyline class="l" points="543.5,200.5 648,425"/>
<polyline class="l" points="581,185.5 765,535"/>
<polyline class="l" points="656,156.5 786,372"/>
<polyline class="l" points="693.5,142.5 812,360"/>
<polyline class="l" points="803,99.5 918,312"/>
<polyline class="l" points="840.5,84.5 944,306"/>
<polyline class="l" points="877,70 917.5,161 982,304"/>
<polyline class="l" points="1124,98.5 1160,208"/>
<polyline class="l" points="1164,98.5 1212,196"/>
<polyline class="l" points="1237,291.5 1206,244"/>
<polyline class="l" points="1208.5,607.5 1133,457"/>
<polyline class="l" points="1173.5,621.5 1110,467"/>
<polyline class="l" points="1137.5,636 1085,476"/>
<polyline class="l" points="1096.5,652 1019,499"/>
<polyline class="l" points="1026,680 951,552"/>
<polyline class="l" points="986,695 935,604"/>
<polyline class="l" points="949,709.5 904,641"/>
<polyline class="l" points="914,724 882.5,635"/>
<polyline class="l" points="880,737.5 870,682.5 852.5,636"/>
<polyline class="l" points="870,682.5 869,632"/>
<polyline class="l" points="837.5,752 793,660"/>
<polyline class="l" points="793.4,772.8 668,709"/>
<polyline class="l" points="758.8,786 731.5,768.4 592,739"/>
<polyline class="l" points="731.5,768.4 606,732"/>
<polyline class="l" points="718.4,804 565,749"/>
<polyline class="l" points="682,817 575,770"/>
<polyline class="l" points="643.4,837.8 581,834 525,765"/>
<polyline class="l" points="70.5,683 87.5,682 205,762"/>
<polyline class="l" points="70.5,722.5 87.5,723 175,773.8"/>
<polyline class="l" points="70.5,762.5 87.5,763 150,785"/>
</g>
<g id="callouts">
<circle class="c" cx="53.75" cy="373.75" r="16.3"/>
<text class="n" x="53.75" y="381.35">1</text>
<circle class="c" cx="90.5" cy="358.75" r="16.3"/>
<text class="n" x="90.5" y="366.35">2</text>
<circle class="c" cx="128" cy="345" r="16.3"/>
<text class="n" x="128" y="352.6">3</text>
<circle class="c" cx="276.25" cy="287" r="16.3"/>
<text class="n" x="276.25" y="294.6">4</text>
<circle class="c" cx="313.75" cy="272" r="16.3"/>
<text class="n" x="313.75" y="279.6">5</text>
<circle class="c" cx="387.5" cy="243" r="16.3"/>
<text class="n" x="387.5" y="250.6">6</text>
<circle class="c" cx="424.5" cy="228.75" r="16.3"/>
<text class="n" x="424.5" y="236.35">7</text>
<circle class="c" cx="461.75" cy="214.25" r="16.3"/>
<text class="n" x="461.75" y="221.85">8</text>
<circle class="c" cx="498.75" cy="200" r="16.3"/>
<text class="n" x="498.75" y="207.6">7</text>
<circle class="c" cx="536.25" cy="185" r="16.3"/>
<text class="n" x="536.25" y="192.6">9</text>
<circle class="c" cx="572.5" cy="170.75" r="16.3"/>
<text class="n" x="572.5" y="178.35">5</text>
<circle class="c" cx="647" cy="142" r="16.3"/>
<text class="n" x="647" y="149.6">9</text>
<circle class="c" cx="684.5" cy="128" r="16.3"/>
<text class="n" x="684.5" y="135.6">7</text>
<circle class="c" cx="795" cy="84.25" r="16.3"/>
<text class="n" x="795" y="91.85">8</text>
<circle class="c" cx="832.5" cy="69.5" r="16.3"/>
<text class="n" x="832.5" y="77.1">7</text>
<circle class="c" cx="868.75" cy="55" r="16.3"/>
<text class="n" x="868.75" y="62.6">6</text>
<circle class="c" cx="1117.5" cy="82.5" r="16.3"/>
<text class="n" x="1117.5" y="90.1">3</text>
<circle class="c" cx="1157" cy="82.5" r="16.3"/>
<text class="n" x="1157" y="90.1">20</text>
<circle class="c" cx="1247" cy="305" r="16.3"/>
<text class="n" x="1247" y="312.6">19</text>
<circle class="c" cx="1216.8" cy="622.8" r="16.3"/>
<text class="n" x="1216.8" y="630.4">10</text>
<circle class="c" cx="1179" cy="638" r="16.3"/>
<text class="n" x="1179" y="645.6">11</text>
<circle class="c" cx="1142.75" cy="652" r="16.3"/>
<text class="n" x="1142.75" y="659.6">12</text>
<circle class="c" cx="1105.25" cy="667" r="16.3"/>
<text class="n" x="1105.25" y="674.6">4</text>
<circle class="c" cx="1031.5" cy="695" r="16.3"/>
<text class="n" x="1031.5" y="702.6">18</text>
<circle class="c" cx="994.5" cy="710" r="16.3"/>
<text class="n" x="994.5" y="717.6">13</text>
<circle class="c" cx="957.5" cy="724.5" r="16.3"/>
<text class="n" x="957.5" y="732.1">14</text>
<circle class="c" cx="921" cy="739" r="16.3"/>
<text class="n" x="921" y="746.6">15</text>
<circle class="c" cx="884" cy="754" r="16.3"/>
<text class="n" x="884" y="761.6">16</text>
<circle class="c" cx="846" cy="768" r="16.3"/>
<text class="n" x="846" y="775.6">17</text>
<circle class="c" cx="808.8" cy="782.5" r="16.3"/>
<text class="n" x="808.8" y="790.1">17</text>
<circle class="c" cx="771.9" cy="796.6" r="16.3"/>
<text class="n" x="771.9" y="804.2">16</text>
<circle class="c" cx="734.75" cy="811" r="16.3"/>
<text class="n" x="734.75" y="818.6">15</text>
<circle class="c" cx="697.8" cy="825.25" r="16.3"/>
<text class="n" x="697.8" y="832.85">14</text>
<circle class="c" cx="659.75" cy="839.7" r="16.3"/>
<text class="n" x="659.75" y="847.3">13</text>
<circle class="c" cx="53.75" cy="683.75" r="16.3"/>
<text class="n" x="53.75" y="691.35">12</text>
<circle class="c" cx="53.75" cy="722.5" r="16.3"/>
<text class="n" x="53.75" y="730.1">11</text>
<circle class="c" cx="53.75" cy="762.5" r="16.3"/>
<text class="n" x="53.75" y="770.1">10</text>
</g>

<!-- watermark -->
<defs><mask id="wmhole" maskUnits="userSpaceOnUse" x="480" y="380" width="140" height="120"><rect x="480" y="380" width="140" height="120" fill="#fff"/><circle cx="550" cy="440" r="26" fill="#000"/></mask></defs>
<g id="watermark" fill="#adadad" style="mix-blend-mode:multiply">
<text class="wm" x="481.5" y="453.7" textLength="29.9" lengthAdjust="spacingAndGlyphs">R</text>
<text class="wm" x="597" y="453.7" textLength="35.1" lengthAdjust="spacingAndGlyphs">M</text>
<text class="wm" x="661.5" y="453.7" textLength="136.3" lengthAdjust="spacingAndGlyphs">PARTS</text>
<path fill="#b8b8b8" d="M550,398 a42,42 0 1,0 0.01,0 Z M550,414 a26,26 0 1,1 -0.01,0 Z" fill-rule="evenodd"/>
<g mask="url(#wmhole)">
<path d="M533.5,388.5 L582,388.5 L556,440 Z"/>
<path d="M527,491.5 L572,491.5 L556,440 Z"/>
</g>
</g>

</svg>
</body></html>
